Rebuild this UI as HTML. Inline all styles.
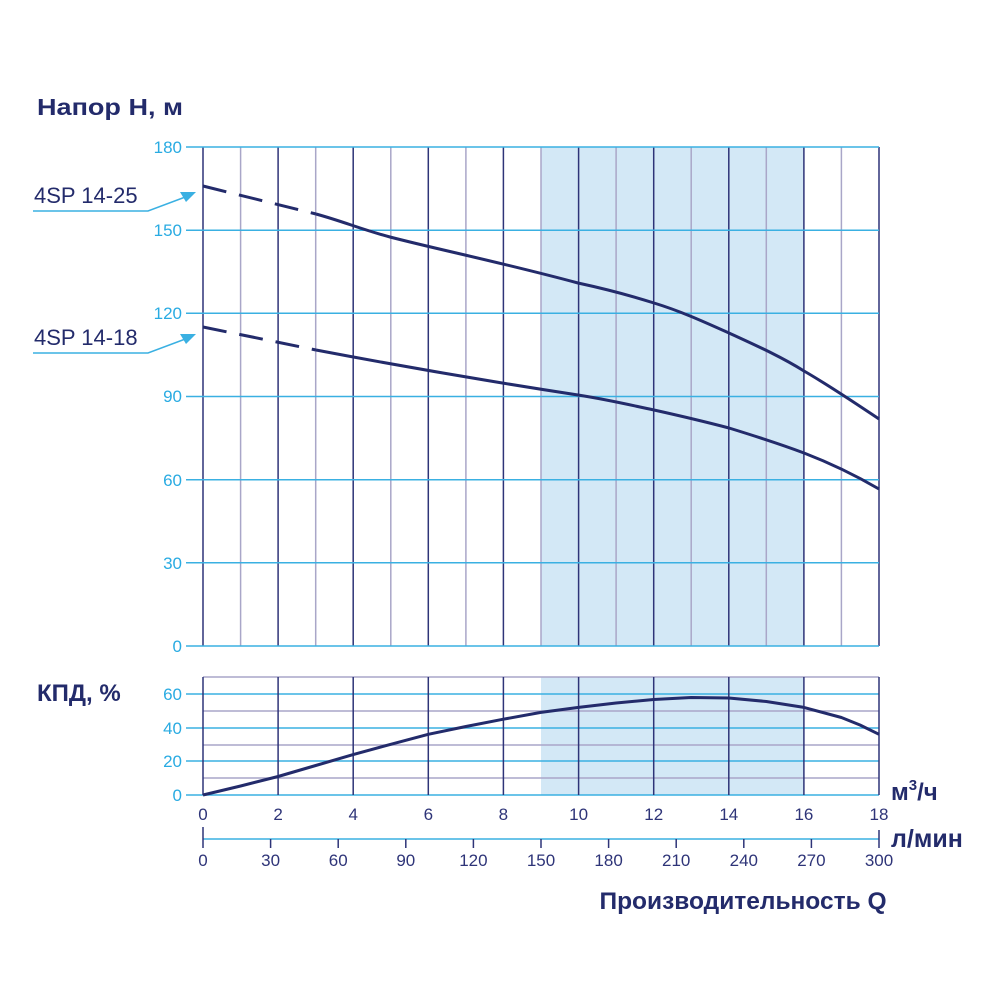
<!DOCTYPE html>
<html><head><meta charset="utf-8"><style>body{margin:0;background:#fff}svg{display:block}</style></head><body>
<svg width="1000" height="1000" viewBox="0 0 1000 1000" font-family="Liberation Sans, sans-serif">
<rect x="541" y="147" width="263" height="499" fill="#d3e8f6"/>
<rect x="541" y="677" width="263" height="118" fill="#d3e8f6"/>
<g stroke-width="1.5">
<g stroke="#a9a6c8">
<line x1="240.6" y1="147" x2="240.6" y2="646"/><line x1="315.7" y1="147" x2="315.7" y2="646"/><line x1="390.8" y1="147" x2="390.8" y2="646"/><line x1="465.9" y1="147" x2="465.9" y2="646"/><line x1="541" y1="147" x2="541" y2="646"/><line x1="616.1" y1="147" x2="616.1" y2="646"/><line x1="691.2" y1="147" x2="691.2" y2="646"/><line x1="766.3" y1="147" x2="766.3" y2="646"/><line x1="841.4" y1="147" x2="841.4" y2="646"/>
</g>
<g stroke="#2e3478">
<line x1="203" y1="147" x2="203" y2="646"/><line x1="278.1" y1="147" x2="278.1" y2="646"/><line x1="353.2" y1="147" x2="353.2" y2="646"/><line x1="428.3" y1="147" x2="428.3" y2="646"/><line x1="503.4" y1="147" x2="503.4" y2="646"/><line x1="578.6" y1="147" x2="578.6" y2="646"/><line x1="653.7" y1="147" x2="653.7" y2="646"/><line x1="728.8" y1="147" x2="728.8" y2="646"/><line x1="803.9" y1="147" x2="803.9" y2="646"/><line x1="879" y1="147" x2="879" y2="646"/>
</g>
<g stroke="#3ab0e2">
<line x1="186" y1="147" x2="879" y2="147"/><line x1="186" y1="230.2" x2="879" y2="230.2"/><line x1="186" y1="313.3" x2="879" y2="313.3"/><line x1="186" y1="396.5" x2="879" y2="396.5"/><line x1="186" y1="479.7" x2="879" y2="479.7"/><line x1="186" y1="562.8" x2="879" y2="562.8"/><line x1="186" y1="646" x2="879" y2="646"/>
</g>
<g stroke="#a9a6c8">
<line x1="203" y1="677" x2="879" y2="677"/><line x1="203" y1="711" x2="879" y2="711"/><line x1="203" y1="745" x2="879" y2="745"/><line x1="203" y1="778" x2="879" y2="778"/>
</g>
<g stroke="#3ab0e2">
<line x1="186" y1="694" x2="879" y2="694"/><line x1="186" y1="728" x2="879" y2="728"/><line x1="186" y1="761" x2="879" y2="761"/><line x1="186" y1="795" x2="879" y2="795"/>
</g>
<g stroke="#2e3478">
<line x1="203" y1="677" x2="203" y2="795"/><line x1="278.1" y1="677" x2="278.1" y2="795"/><line x1="353.2" y1="677" x2="353.2" y2="795"/><line x1="428.3" y1="677" x2="428.3" y2="795"/><line x1="503.4" y1="677" x2="503.4" y2="795"/><line x1="578.6" y1="677" x2="578.6" y2="795"/><line x1="653.7" y1="677" x2="653.7" y2="795"/><line x1="728.8" y1="677" x2="728.8" y2="795"/><line x1="803.9" y1="677" x2="803.9" y2="795"/><line x1="879" y1="677" x2="879" y2="795"/>
</g>
<line x1="203" y1="839" x2="879" y2="839" stroke="#3ab0e2"/>
<g stroke="#2e3478">
<line x1="203" y1="827" x2="203" y2="848"/><line x1="270.6" y1="839" x2="270.6" y2="848"/><line x1="338.2" y1="839" x2="338.2" y2="848"/><line x1="405.8" y1="839" x2="405.8" y2="848"/><line x1="473.4" y1="839" x2="473.4" y2="848"/><line x1="541" y1="839" x2="541" y2="848"/><line x1="608.6" y1="839" x2="608.6" y2="848"/><line x1="676.2" y1="839" x2="676.2" y2="848"/><line x1="743.8" y1="839" x2="743.8" y2="848"/><line x1="811.4" y1="839" x2="811.4" y2="848"/><line x1="879" y1="830" x2="879" y2="848"/>
</g>
</g>
<g fill="none" stroke="#232b6b" stroke-width="3" stroke-linejoin="round">
<path d="M203,186 L316,214" stroke-dasharray="24,13"/>
<path d="M316,214 C345,222 360,229 390,237 C440,250 500,262 578,283 C615,291 635,297 654,303 C680,311 700,320 729,333 C755,345 780,356 804,371 C830,386 855,403 879,419"/>
<path d="M203,327 L316,350" stroke-dasharray="24,13"/>
<path d="M316,350 C400,366 480,380 578,395 C610,400 630,405 654,410 C690,418 710,423 729,428 C755,436 780,444 804,453 C830,463 855,475 879,489"/>
<polyline points="203,795 240.6,786 278.1,776.5 315.7,765.5 353.2,754.6 390.8,744.3 428.3,734.3 465.9,726.5 503.4,719.2 541,712.4 578.6,707.4 616.1,703 653.7,699.5 691.2,697.5 728.8,698 766.3,701.5 803.9,707.4 841.4,717.5 860,725 879,734.3"/>
</g>
<g fill="#29abe2" font-size="17" text-anchor="end">
<text x="182" y="153">180</text><text x="182" y="236">150</text><text x="182" y="319">120</text><text x="182" y="402">90</text><text x="182" y="486">60</text><text x="182" y="569">30</text><text x="182" y="652">0</text>
<text x="182" y="700">60</text><text x="182" y="734">40</text><text x="182" y="767">20</text><text x="182" y="801">0</text>
</g>
<g fill="#2e3478" font-size="17" text-anchor="middle">
<text x="203" y="820">0</text><text x="278.1" y="820">2</text><text x="353.2" y="820">4</text><text x="428.3" y="820">6</text><text x="503.4" y="820">8</text><text x="578.6" y="820">10</text><text x="653.7" y="820">12</text><text x="728.8" y="820">14</text><text x="803.9" y="820">16</text><text x="879" y="820">18</text>
<text x="203" y="866">0</text><text x="270.6" y="866">30</text><text x="338.2" y="866">60</text><text x="405.8" y="866">90</text><text x="473.4" y="866">120</text><text x="541" y="866">150</text><text x="608.6" y="866">180</text><text x="676.2" y="866">210</text><text x="743.8" y="866">240</text><text x="811.4" y="866">270</text><text x="879" y="866">300</text>
</g>
<g fill="#232b6b" font-weight="bold" font-size="23">
<text x="37" y="115" textLength="146" lengthAdjust="spacingAndGlyphs">Напор H, м</text>
<text x="37" y="701" font-size="24">КПД, %</text>
<text x="891" y="800" font-size="24">м<tspan font-size="15" dy="-10">3</tspan><tspan dy="10">/ч</tspan></text>
<text x="891" y="847" font-size="25">л/мин</text>
<text x="743" y="909" text-anchor="middle" font-size="24.5">Производительность Q</text>
</g>
<g fill="#232b6b" font-size="22">
<text x="34" y="203">4SP 14-25</text>
<text x="34" y="345">4SP 14-18</text>
</g>
<g stroke="#3ab0e2" stroke-width="1.5" fill="none">
<polyline points="33,211 148,211 188,196"/>
<polyline points="33,353 148,353 188,338"/>
</g>
<g fill="#3ab0e2">
<polygon points="196,192 180,192 186,202"/>
<polygon points="196,334 180,334 186,344"/>
</g>
</svg>
</body></html>
